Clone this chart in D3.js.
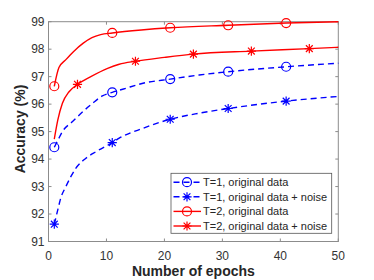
<!DOCTYPE html>
<html>
<head>
<meta charset="utf-8">
<script src="https://cdn.jsdelivr.net/npm/d3@7"></script>
<style>
  body { margin: 0; background: #fff; }
  text { font-family: "Liberation Sans", Arial, sans-serif; }
</style>
</head>
<body>
<div id="viz1"></div>
<script>
"use strict";
// values
const t1OrigEpochs = [1, 1.7, 2.4, 4.1, 5.9, 7.6, 9.3, 11, 12.8, 16.3, 21, 26, 31, 41, 50]
const t1OrigAcc = [94.43, 94.72, 95.0, 95.36, 95.72, 96.03, 96.3, 96.43, 96.54, 96.76, 96.91, 97.06, 97.18, 97.36, 97.49]
const t1NoiseEpochs = [1, 1.6, 2.1, 3, 3.85, 4.7, 6.45, 8.2, 11, 12.2, 16.3, 21, 26, 31, 41, 50]
const t1NoiseAcc = [91.63, 92.15, 92.57, 93.0, 93.36, 93.66, 94.03, 94.27, 94.6, 94.76, 95.12, 95.45, 95.67, 95.84, 96.11, 96.28]
const t2OrigEpochs = [1, 1.8, 3, 4.3, 6, 7.5, 9, 11, 16, 21, 31, 41, 50]
const t2OrigAcc = [96.65, 97.33, 97.62, 97.91, 98.22, 98.42, 98.53, 98.59, 98.7, 98.78, 98.87, 98.95, 99.0]
const t2NoiseEpochs = [1, 1.6, 2.4, 3.55, 5, 7.3, 10.2, 12.2, 15, 20, 25, 35, 45, 50]
const t2NoiseAcc = [94.73, 95.42, 96.03, 96.45, 96.72, 97.0, 97.3, 97.45, 97.56, 97.7, 97.82, 97.93, 98.02, 98.07]
const markersT1 = [1, 11, 21, 31, 41]
const markersT2Noise = [5, 15, 25, 35, 45]
const seriesNames = ['T=1, original data', 'T=1, original data + noise', 'T=2, original data', 'T=2, original data + noise']
const xTicks = [0, 10, 20, 30, 40, 50]
const yTicks = [91, 92, 93, 94, 95, 96, 97, 98, 99]

;(function(){
  let m = { width: 374, height: 280, left: 48.5, right: 338.3, top: 21.7, bottom: 241.5 }

  const svg = d3.select("#viz1").append('svg')
      .attr('width', m.width)
      .attr('height', m.height)

  let xScale = d3.scaleLinear().domain([0, 50]).range([m.left, m.right])
  let yScale = d3.scaleLinear().domain([91, 99]).range([m.bottom, m.top])

  const zip = (xs, ys) => xs.map((x, i) => ({ x: x, y: ys[i] }))
  let series = [
    { name: seriesNames[0], data: zip(t1OrigEpochs, t1OrigAcc), color: '#0000ff', dash: '6,4', marker: 'circle', marks: markersT1 },
    { name: seriesNames[1], data: zip(t1NoiseEpochs, t1NoiseAcc), color: '#0000ff', dash: '6,4', marker: 'star', marks: markersT1 },
    { name: seriesNames[2], data: zip(t2OrigEpochs, t2OrigAcc), color: '#ff0000', dash: null, marker: 'circle', marks: markersT1 },
    { name: seriesNames[3], data: zip(t2NoiseEpochs, t2NoiseAcc), color: '#ff0000', dash: null, marker: 'star', marks: markersT2Noise }
  ]

  // axes box with inward ticks on all four sides
  const axisColor = '#8c8c8c'
  const tickLen = 3
  svg.append('rect')
      .attr('x', m.left).attr('y', m.top)
      .attr('width', m.right - m.left).attr('height', m.bottom - m.top)
      .attr('fill', 'none').attr('stroke', axisColor).attr('stroke-width', 1)

  let gx = svg.append('g')
  xTicks.forEach(function(t){
    let x = xScale(t)
    gx.append('line').attr('x1', x).attr('x2', x).attr('y1', m.bottom).attr('y2', m.bottom - tickLen).attr('stroke', axisColor)
    gx.append('line').attr('x1', x).attr('x2', x).attr('y1', m.top).attr('y2', m.top + tickLen).attr('stroke', axisColor)
    gx.append('text')
      .attr('x', x).attr('y', 259.5)
      .attr('text-anchor', 'middle')
      .attr('font-size', '12px')
      .attr('fill', '#333')
      .text(t)
  })
  let gy = svg.append('g')
  yTicks.forEach(function(t){
    let y = yScale(t)
    gy.append('line').attr('y1', y).attr('y2', y).attr('x1', m.left).attr('x2', m.left + tickLen).attr('stroke', axisColor)
    gy.append('line').attr('y1', y).attr('y2', y).attr('x1', m.right).attr('x2', m.right - tickLen).attr('stroke', axisColor)
    gy.append('text')
      .attr('x', 44.5).attr('y', y)
      .attr('dy', '0.36em')
      .attr('text-anchor', 'end')
      .attr('font-size', '12px')
      .attr('fill', '#333')
      .text(t)
  })

  svg.append('text')
      .attr('x', (m.left + m.right) / 2).attr('y', 276)
      .attr('text-anchor', 'middle')
      .attr('font-size', '14px').attr('font-weight', 'bold')
      .attr('fill', '#262626')
      .text('Number of epochs')
  svg.append('text')
      .attr('transform', 'translate(25,129)rotate(-90)')
      .attr('text-anchor', 'middle')
      .attr('font-size', '14px').attr('font-weight', 'bold')
      .attr('fill', '#262626')
      .text('Accuracy (%)')

  let line = d3.line()
      .x(d => xScale(d.x))
      .y(d => yScale(d.y))
      .curve(d3.curveMonotoneX)

  function drawMarker(g, kind, cx, cy, color) {
    if (kind == 'circle') {
      g.append('circle').attr('cx', cx).attr('cy', cy).attr('r', 4.5)
        .attr('fill', 'none').attr('stroke', color).attr('stroke-width', 1.2)
    } else {
      let r = 4.6, d = 3.4
      let p = `M${cx - r},${cy}H${cx + r}M${cx},${cy - r}V${cy + r}` +
              `M${cx - d},${cy - d}L${cx + d},${cy + d}M${cx - d},${cy + d}L${cx + d},${cy - d}`
      g.append('path').attr('d', p).attr('fill', 'none').attr('stroke', color).attr('stroke-width', 1.2)
    }
  }

  series.forEach(function(s){
    let g = svg.append('g')
    g.append('path')
      .datum(s.data)
      .attr('d', line)
      .attr('fill', 'none')
      .attr('stroke', s.color)
      .attr('stroke-width', 1.4)
      .attr('stroke-dasharray', s.dash)
    s.data.filter(d => s.marks.includes(d.x)).forEach(function(d){
      drawMarker(g, s.marker, xScale(d.x), yScale(d.y), s.color)
    })
  })

  // legend
  let lg = svg.append('g')
  lg.append('rect')
      .attr('x', 171).attr('y', 173.3)
      .attr('width', 160.7).attr('height', 60)
      .attr('fill', '#fff').attr('stroke', '#555').attr('stroke-width', 0.8)
  let rowY = d3.scaleLinear().domain([0, 3]).range([182.2, 226])
  series.forEach(function(s, i){
    let y = rowY(i)
    lg.append('line')
      .attr('x1', 173.5).attr('x2', 201).attr('y1', y).attr('y2', y)
      .attr('stroke', s.color).attr('stroke-width', 1.4)
      .attr('stroke-dasharray', s.dash)
    drawMarker(lg, s.marker, 187, y, s.color)
    lg.append('text')
      .attr('x', 203).attr('y', y)
      .attr('dy', '0.36em')
      .attr('font-size', '11px')
      .attr('fill', '#262626')
      .text(s.name)
  })
})();
</script>
</body>
</html>
